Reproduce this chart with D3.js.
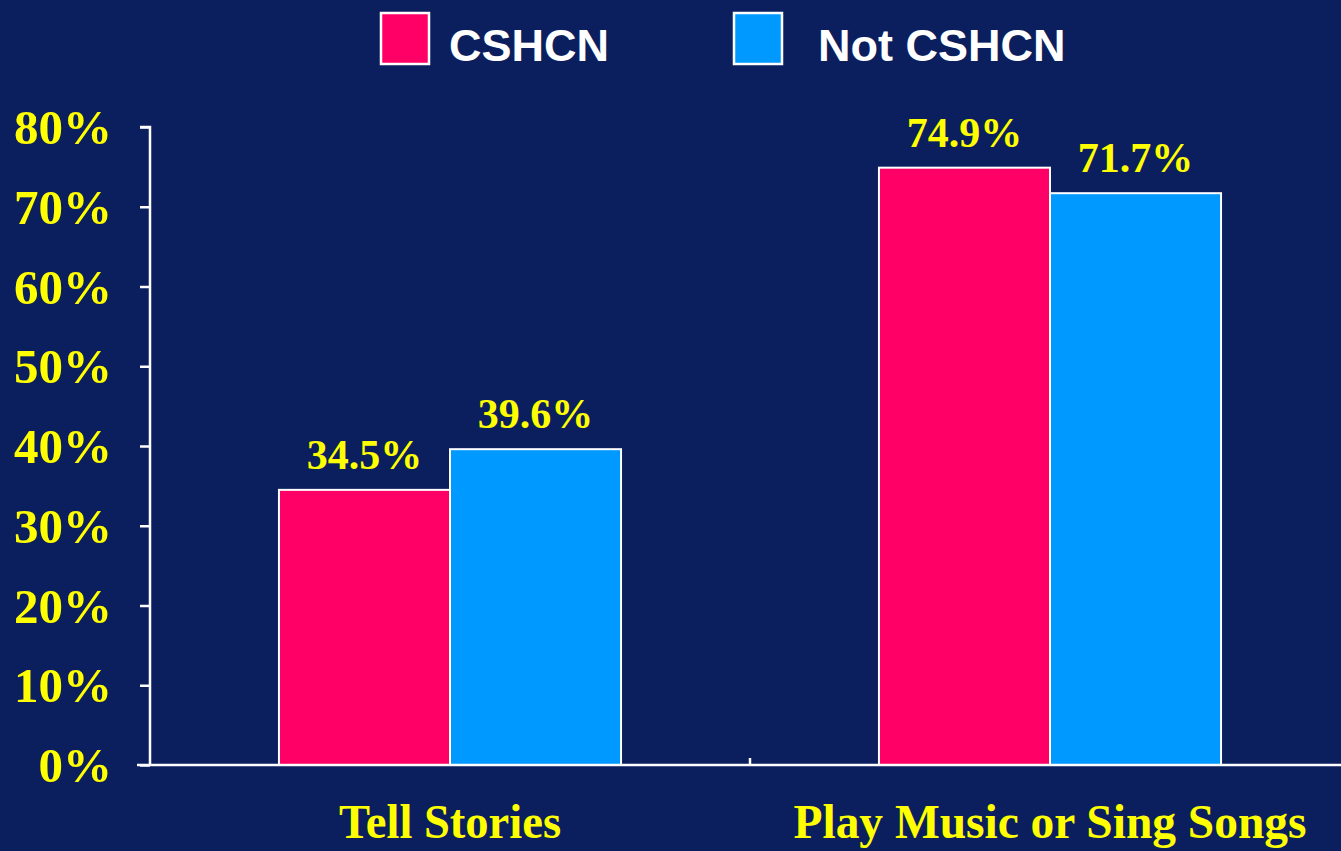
<!DOCTYPE html>
<html>
<head>
<meta charset="utf-8">
<script src="https://cdn.jsdelivr.net/npm/d3@7"></script>
<style>
  html, body { margin: 0; padding: 0; background: #0b1f5f; }
  svg { display: block; }
</style>
</head>
<body>
<svg id="chart" width="1341" height="851"></svg>
<script>
const categories = ["Tell Stories", "Play Music or Sing Songs"];
const seriesNames = ["CSHCN", "Not CSHCN"];
const cshcnValues = [34.5, 74.9];
const notCshcnValues = [39.6, 71.7];
const yTicks = [0, 10, 20, 30, 40, 50, 60, 70, 80];
const colors = ["#ff0066", "#0099ff"];

const W = 1341, H = 851;
const svg = d3.select("#chart");
svg.append("rect").attr("width", W).attr("height", H).attr("fill", "#0b1f5f");

const x0 = 150, x1 = 1350, yBottom = 765, yTop = 127;
const x = d3.scaleBand().domain(categories).range([x0, x1]).paddingInner(0).paddingOuter(0);
const xs = d3.scaleBand().domain(seriesNames).range([0, x.bandwidth()]).paddingInner(0).paddingOuter(0.754);
const y = d3.scaleLinear().domain([0, 80]).range([yBottom, yTop]);

const serif = "'Liberation Serif', 'Times New Roman', serif";
const sans = "'Liberation Sans', Arial, sans-serif";

const data = categories.map((c, i) => ({
  cat: c,
  vals: [
    { s: seriesNames[0], v: cshcnValues[i], color: colors[0] },
    { s: seriesNames[1], v: notCshcnValues[i], color: colors[1] }
  ]
}));

// Bars
const groups = svg.selectAll("g.grp").data(data).enter().append("g")
  .attr("class", "grp")
  .attr("transform", d => `translate(${x(d.cat)},0)`);

groups.selectAll("rect").data(d => d.vals).enter().append("rect")
  .attr("x", d => xs(d.s))
  .attr("y", d => y(d.v))
  .attr("width", xs.bandwidth())
  .attr("height", d => y(0) - y(d.v))
  .attr("fill", d => d.color)
  .attr("stroke", "#ffffff")
  .attr("stroke-width", 2);

groups.selectAll("text.val").data(d => d.vals).enter().append("text")
  .attr("class", "val")
  .attr("x", d => xs(d.s) + xs.bandwidth() / 2)
  .attr("y", d => y(d.v) - 21)
  .attr("text-anchor", "middle")
  .attr("font-family", serif)
  .attr("font-weight", "bold")
  .attr("font-size", 42)
  .attr("fill", "#ffff00")
  .text(d => d.v.toFixed(1) + "%");

// Y axis
const yAxis = d3.axisLeft(y).tickValues(yTicks).tickSize(10).tickPadding(28)
  .tickFormat(d => d + "%");
const gy = svg.append("g").attr("transform", `translate(${x0},0)`).call(yAxis);
gy.select(".domain").attr("stroke", "#ffffff").attr("stroke-width", 2.5)
  .attr("d", `M-10,${yTop}H0V${yBottom}`);
gy.selectAll(".tick line").attr("stroke", "#ffffff").attr("stroke-width", 2.5);
gy.selectAll(".tick text")
  .attr("fill", "#ffff00")
  .attr("font-family", serif)
  .attr("font-weight", "bold")
  .attr("font-size", 49)
  .attr("dy", "0.34em");

// X axis
const xAxis = d3.axisBottom(x).tickSize(0).tickPadding(0).tickFormat("");
const gx = svg.append("g").attr("transform", `translate(0,${yBottom})`).call(xAxis);
gx.select(".domain").attr("stroke", "#ffffff").attr("stroke-width", 2.5)
  .attr("d", `M137,0H${W}`);
gx.selectAll(".tick").remove();
// category divider tick
gx.selectAll("line.div").data(categories.slice(1)).enter().append("line")
  .attr("class", "div")
  .attr("x1", d => x(d)).attr("x2", d => x(d))
  .attr("y1", 0).attr("y2", -7)
  .attr("stroke", "#ffffff").attr("stroke-width", 2.5);

// Category labels
const catWidths = [222, 513];
svg.selectAll("text.cat").data(categories).enter().append("text")
  .attr("class", "cat")
  .attr("x", d => x(d) + x.bandwidth() / 2)
  .attr("y", 838)
  .attr("text-anchor", "middle")
  .attr("font-family", serif)
  .attr("font-weight", "bold")
  .attr("font-size", 48)
  .attr("fill", "#ffff00")
  .attr("textLength", (d, i) => catWidths[i])
  .attr("lengthAdjust", "spacingAndGlyphs")
  .text(d => d);

// Legend
const legendX = [380, 733];
const leg = svg.selectAll("g.leg").data(seriesNames).enter().append("g")
  .attr("class", "leg")
  .attr("transform", (d, i) => `translate(${legendX[i]},0)`);
leg.append("rect")
  .attr("x", 1).attr("y", 13).attr("width", 48).attr("height", 51)
  .attr("fill", (d, i) => colors[i])
  .attr("stroke", "#ffffff").attr("stroke-width", 2.5);
leg.append("text")
  .attr("x", (d, i) => i === 0 ? 69 : 85)
  .attr("y", 61)
  .attr("font-family", sans)
  .attr("font-weight", "bold")
  .attr("font-size", 45)
  .attr("fill", "#ffffff")
  .text(d => d);
</script>
</body>
</html>
